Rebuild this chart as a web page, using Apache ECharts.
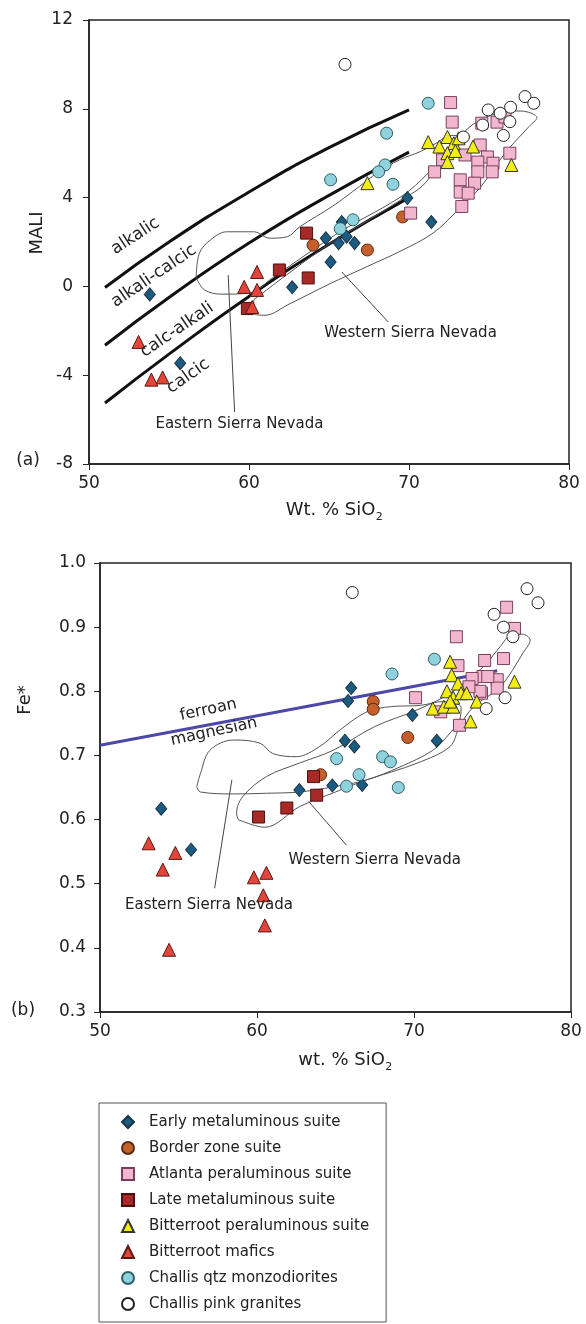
<!DOCTYPE html>
<html>
<head>
<meta charset="utf-8">
<script src="https://cdn.jsdelivr.net/npm/echarts@6/dist/echarts.min.js"></script>
<style>
  html, body { margin: 0; padding: 0; background: #fff; }
  #chart { width: 586px; height: 1324px; }
</style>
</head>
<body>
<div id="chart"></div>
<script>
// ---- suites (legend order) ----
const suiteNames = [
  'Early metaluminous suite',
  'Border zone suite',
  'Atlanta peraluminous suite',
  'Late metaluminous suite',
  'Bitterroot peraluminous suite',
  'Bitterroot mafics',
  'Challis qtz monzodiorites',
  'Challis pink granites'
];

// ---- (a) MALI vs SiO2: [SiO2, MALI] ----
const earlyMali = [[69.9,3.98],[71.4,2.9],[65.8,2.9],[64.8,2.17],[65.6,1.95],[66.1,2.24],[66.6,1.95],[65.1,1.1],[62.7,-0.04],[53.8,-0.36],[55.7,-3.46]];
const borderMali = [[69.6,3.13],[64.0,1.86],[67.4,1.64]];
const atlantaMali = [[72.6,8.28],[72.7,7.4],[74.55,7.35],[75.5,7.4],[76.0,7.63],[74.45,6.37],[73.5,5.92],[74.9,5.83],[72.1,5.7],[74.3,5.6],[75.25,5.55],[76.3,6.0],[71.6,5.16],[74.3,5.16],[75.2,5.16],[73.2,4.8],[74.1,4.65],[73.2,4.25],[73.7,4.2],[73.3,3.6],[70.1,3.3]];
const lateMali = [[63.6,2.4],[61.9,0.74],[63.7,0.38],[59.9,-1.0]];
const bitterPerMali = [[71.2,6.5],[72.4,6.73],[71.9,6.3],[72.8,6.45],[73.1,6.67],[74.0,6.3],[72.4,6.0],[72.9,6.1],[72.4,5.6],[76.4,5.47],[67.4,4.65]];
const maficsMali = [[60.5,0.65],[59.7,-0.02],[60.5,-0.16],[60.2,-0.93],[53.1,-2.5],[53.9,-4.2],[54.6,-4.1]];
const qtzMali = [[71.2,8.25],[68.6,6.9],[68.5,5.47],[68.1,5.16],[65.1,4.8],[69.0,4.6],[65.7,2.6],[66.5,3.0]];
const pinkMali = [[66.0,10.0],[77.25,8.55],[77.8,8.25],[76.35,8.07],[74.95,7.95],[75.7,7.8],[74.6,7.27],[76.3,7.42],[75.9,6.8],[73.4,6.73]];

// ---- (b) Fe* vs SiO2: [SiO2, Fe*] ----
const earlyFe = [[66.0,0.805],[65.8,0.785],[69.9,0.763],[65.6,0.723],[66.2,0.714],[71.45,0.723],[62.7,0.646],[64.8,0.653],[66.7,0.654],[53.9,0.617],[55.8,0.553]];
const borderFe = [[67.4,0.784],[67.4,0.772],[69.6,0.728],[64.05,0.67]];
const atlantaFe = [[75.9,0.931],[76.4,0.898],[72.7,0.885],[74.5,0.848],[75.7,0.851],[72.8,0.84],[74.4,0.823],[73.7,0.82],[75.3,0.818],[75.3,0.805],[74.3,0.797],[70.1,0.79],[74.2,0.80],[73.5,0.807],[74.7,0.823],[71.7,0.768],[72.9,0.747]];
const lateFe = [[63.6,0.667],[63.8,0.638],[61.9,0.618],[60.1,0.604]];
const bitterPerFe = [[72.3,0.846],[72.4,0.825],[72.8,0.812],[72.1,0.80],[76.4,0.815],[72.5,0.79],[73.0,0.797],[73.35,0.797],[74.0,0.784],[71.2,0.773],[71.9,0.776],[72.5,0.776],[72.3,0.784],[73.6,0.753]];
const maficsFe = [[53.1,0.563],[54.8,0.548],[54.0,0.522],[59.8,0.51],[60.6,0.517],[60.4,0.482],[60.5,0.435],[54.4,0.397]];
const qtzFe = [[71.3,0.85],[68.6,0.827],[65.07,0.695],[68.0,0.698],[68.5,0.69],[66.5,0.67],[65.7,0.652],[69.0,0.65]];
const pinkFe = [[66.07,0.954],[77.2,0.96],[77.9,0.938],[75.1,0.92],[75.7,0.90],[76.3,0.885],[75.8,0.79],[74.6,0.773]];

// ---- MALI class boundaries, [SiO2, MALI] ----
const alkalicBoundary = [[51,-0.05],[55,2.0],[60,4.25],[65,6.25],[70,7.95]];
const alkaliCalcicBoundary = [[51,-2.65],[55,-0.5],[60,1.95],[65,4.1],[70,6.05]];
const calcicBoundary = [[51,-5.25],[55,-3.05],[60,-0.45],[65,1.9],[70,4.0]];

// ---- ferroan / magnesian boundary, [SiO2, Fe*] ----
const ferroanBoundary = [[50,0.716],[75.3,0.832]];

// ---- Sierra Nevada fields (outlines) ----
const easternFieldMali = [[56.7,0.4],[56.9,1.5],[57.6,2.1],[58.6,2.46],[60.3,2.46],[61.3,2.17],[62.4,2.24],[63.2,2.7],[65.2,3.6],[66.9,4.5],[68.0,5.1],[69.4,5.7],[70.7,6.07],[71.7,6.45],[72.6,6.8],[73.2,6.75],[73.0,6.2],[71.5,5.3],[70.0,4.3],[68.5,3.6],[66.0,2.6],[63.5,1.4],[61.5,0.4],[60.0,-0.3],[58.3,-0.35],[57.2,-0.15],[56.7,0.4]];
const westernFieldMali = [[60.3,-0.6],[62.5,0.6],[65.0,1.9],[67.5,3.0],[69.5,3.9],[70.8,4.5],[71.8,5.4],[72.8,6.4],[74.0,7.3],[75.5,7.8],[77.0,7.9],[78.0,7.6],[77.5,7.2],[76.0,6.0],[74.5,4.5],[73.0,3.4],[71.5,2.4],[69.5,1.6],[67.4,0.9],[65.0,0.1],[62.5,-0.8],[61.0,-1.3],[60.3,-1.2],[60.3,-0.6]];
const easternFieldFe = [[56.16,0.651],[56.4,0.672],[57.0,0.708],[58.5,0.724],[60.2,0.719],[61.0,0.703],[62.5,0.698],[64.0,0.714],[65.3,0.74],[67.0,0.768],[68.5,0.776],[70.4,0.778],[71.85,0.784],[73.0,0.775],[72.9,0.755],[72.3,0.735],[71.2,0.708],[69.1,0.682],[67.0,0.662],[64.85,0.651],[62.7,0.643],[60.6,0.641],[58.5,0.64],[56.4,0.643],[56.16,0.651]];
const westernFieldFe = [[58.8,0.60],[60.5,0.588],[62.7,0.62],[65.0,0.643],[67.0,0.662],[70.2,0.688],[72.3,0.714],[72.9,0.745],[73.8,0.776],[75.5,0.807],[76.95,0.86],[77.4,0.88],[76.9,0.889],[76.2,0.888],[75.5,0.87],[74.4,0.838],[72.3,0.797],[70.2,0.771],[67.5,0.745],[64.85,0.708],[62.7,0.688],[60.6,0.667],[59.1,0.636],[58.7,0.61],[58.8,0.60]];

// ---- axis ticks ----
const siTicks = { min: 50, max: 80, step: 10 };
const maliTicks = { min: -8, max: 12, step: 4 };
const feTicks = { min: 0.3, max: 1.0, step: 0.1 };

// ---------------------------------------------------------------
const FONT = 'DejaVu Sans';
const INK = '#222';

const suiteStyle = {
  'Early metaluminous suite':      { symbol: 'diamond',  size: [11, 13], color: '#1b5b80', border: '#1a3345' },
  'Border zone suite':             { symbol: 'circle',   size: 12, color: '#c4602c', border: '#5a2a12' },
  'Atlanta peraluminous suite':    { symbol: 'rect',     size: 12, color: '#f2b7cf', border: '#7a3e5e' },
  'Late metaluminous suite':       { symbol: 'rect',     size: 12, color: '#a82a26', border: '#4a1010' },
  'Bitterroot peraluminous suite': { symbol: 'triangle', size: 13, color: '#f4ee10', border: '#333' },
  'Bitterroot mafics':             { symbol: 'triangle', size: 13, color: '#e2453a', border: '#5a1a14' },
  'Challis qtz monzodiorites':     { symbol: 'circle',   size: 12, color: '#8fd1dc', border: '#2e5e66' },
  'Challis pink granites':         { symbol: 'circle',   size: 12, color: '#ffffff', border: '#222' }
};
const maliData = [earlyMali, borderMali, atlantaMali, lateMali, bitterPerMali, maficsMali, qtzMali, pinkMali];
const feData = [earlyFe, borderFe, atlantaFe, lateFe, bitterPerFe, maficsFe, qtzFe, pinkFe];

function scatter(name, data, idx) {
  const s = suiteStyle[name];
  return {
    type: 'scatter', name, data,
    xAxisIndex: idx, yAxisIndex: idx,
    symbol: s.symbol, symbolSize: s.size, symbolKeepAspect: true,
    itemStyle: { color: s.color, borderColor: s.border, borderWidth: 1, opacity: 1 },
    emphasis: { disabled: true }, z: 5
  };
}
function path(data, idx, color, width, smooth, z) {
  return {
    type: 'line', data, xAxisIndex: idx, yAxisIndex: idx,
    symbol: 'none', smooth, silent: true,
    lineStyle: { color, width }, z: z || 2, legendHoverLink: false
  };
}

function axisCommon(t, extraLabel) {
  return {
    type: 'value', min: t.min, max: t.max, interval: t.step,
    axisLine: { show: true, onZero: false, lineStyle: { color: INK, width: 1.5 } },
    axisTick: { show: true, length: 6, lineStyle: { color: INK, width: 1 } },
    splitLine: { show: false },
    axisLabel: Object.assign({ color: INK, fontSize: 17, fontFamily: FONT }, extraLabel)
  };
}

const series = [];
suiteNames.forEach((n, i) => { series.push(scatter(n, maliData[i], 0)); });
suiteNames.forEach((n, i) => { series.push(scatter(n, feData[i], 1)); });
series.push(path(alkalicBoundary, 0, '#111', 3, true, 3));
series.push(path(alkaliCalcicBoundary, 0, '#111', 3, true, 3));
series.push(path(calcicBoundary, 0, '#111', 3, true, 3));
series.push(path(easternFieldMali, 0, '#555', 1, 0.35, 4));
series.push(path(westernFieldMali, 0, '#555', 1, 0.35, 4));
series.push(path(ferroanBoundary, 1, '#4a48a8', 3, false, 3));
series.push(path(easternFieldFe, 1, '#555', 1, 0.35, 4));
series.push(path(westernFieldFe, 1, '#555', 1, 0.35, 4));
// leader lines from field names to their outlines
series.push(path([[59.1,-5.66],[58.7,0.51]], 0, '#444', 1, false, 4));
series.push(path([[68.7,-1.6],[65.8,0.65]], 0, '#444', 1, false, 4));
series.push(path([[57.3,0.493],[58.4,0.662]], 1, '#444', 1, false, 4));
series.push(path([[65.7,0.56],[63.3,0.628]], 1, '#444', 1, false, 4));

const chart = echarts.init(document.getElementById('chart'), null, { renderer: 'canvas' });

chart.setOption({
  animation: false,
  backgroundColor: '#fff',
  textStyle: { fontFamily: FONT },
  grid: [
    { left: 89, top: 20, width: 480, height: 444, show: true, borderColor: INK, borderWidth: 1.5, backgroundColor: 'transparent' },
    { left: 100, top: 563, width: 471, height: 449, show: true, borderColor: INK, borderWidth: 1.5, backgroundColor: 'transparent' }
  ],
  xAxis: [
    Object.assign(axisCommon(siTicks, { margin: 11 }), { gridIndex: 0 }),
    Object.assign(axisCommon(siTicks, { margin: 11 }), { gridIndex: 1 })
  ],
  yAxis: [
    Object.assign(axisCommon(maliTicks, { margin: 16 }), { gridIndex: 0 }),
    Object.assign(axisCommon(feTicks, { margin: 14, formatter: v => v.toFixed(1) }), { gridIndex: 1 })
  ],
  legend: {
    data: suiteNames,
    orient: 'vertical',
    left: 99, top: 1103,
    itemWidth: 12, itemHeight: 12, itemGap: 10,
    symbolKeepAspect: true,
    padding: [11, 17, 10, 22],
    borderColor: '#555', borderWidth: 1,
    selectedMode: false,
    textStyle: { color: INK, fontSize: 15, fontFamily: FONT, lineHeight: 16, padding: [0, 0, 0, 10] }
  },
  series
});

// ---- text annotations anchored in data space ----
const measure = document.createElement('canvas').getContext('2d');
function label(idx, at, text, size, rotDeg) {
  const p = chart.convertToPixel({ xAxisIndex: idx, yAxisIndex: idx }, at);
  return {
    type: 'text', x: p[0], y: p[1], rotation: (rotDeg || 0) * Math.PI / 180, z: 10,
    style: { text, fill: INK, fontSize: size, fontFamily: FONT,
             textAlign: 'center', textVerticalAlign: 'middle', align: 'center', verticalAlign: 'middle' }
  };
}
function plain(x, y, text, size, rotDeg) {
  return {
    type: 'text', x, y, rotation: (rotDeg || 0) * Math.PI / 180, z: 10,
    style: { text, fill: INK, fontSize: size, fontFamily: FONT,
             textAlign: 'center', textVerticalAlign: 'middle', align: 'center', verticalAlign: 'middle' }
  };
}
// axis title with a subscript digit, centred on (cx, cy)
function withSub(cx, cy, main, sub, size) {
  measure.font = size + 'px "' + FONT + '"';
  const w1 = measure.measureText(main).width;
  measure.font = Math.round(size * 0.62) + 'px "' + FONT + '"';
  const w2 = measure.measureText(sub).width;
  const x0 = cx - (w1 + w2) / 2;
  return [
    { type: 'text', x: x0, y: cy, z: 10,
      style: { text: main, fill: INK, fontSize: size, fontFamily: FONT,
               textAlign: 'left', textVerticalAlign: 'middle', align: 'left', verticalAlign: 'middle' } },
    { type: 'text', x: x0 + w1 + 0.5, y: cy + size * 0.38, z: 10,
      style: { text: sub, fill: INK, fontSize: Math.round(size * 0.62), fontFamily: FONT,
               textAlign: 'left', textVerticalAlign: 'middle', align: 'left', verticalAlign: 'middle' } }
  ];
}

const graphics = [
  label(0, [52.9, 2.27], 'alkalic', 17, 33),
  label(0, [54.06, 0.47], 'alkali-calcic', 17, 34),
  label(0, [55.5, -1.96], 'calc-alkali', 17, 34),
  label(0, [56.2, -4.04], 'calcic', 17, 35),
  label(0, [59.4, -6.2], 'Eastern Sierra Nevada', 15, 0),
  label(0, [70.1, -2.1], 'Western Sierra Nevada', 15, 0),
  label(1, [56.9, 0.771], 'ferroan', 16, 12),
  label(1, [57.26, 0.737], 'magnesian', 16, 12),
  label(1, [56.94, 0.467], 'Eastern Sierra Nevada', 15, 0),
  label(1, [67.5, 0.537], 'Western Sierra Nevada', 15, 0),
  plain(37, 233, 'MALI', 18, 90),
  plain(25, 700, 'Fe*', 18, 90),
  plain(28, 461, '(a)', 17, 0),
  plain(23, 1011, '(b)', 17, 0)
].concat(withSub(334, 510, 'Wt. % SiO', '2', 18))
 .concat(withSub(345, 1060, 'wt. % SiO', '2', 18));

chart.setOption({ graphic: graphics });
</script>
</body>
</html>
